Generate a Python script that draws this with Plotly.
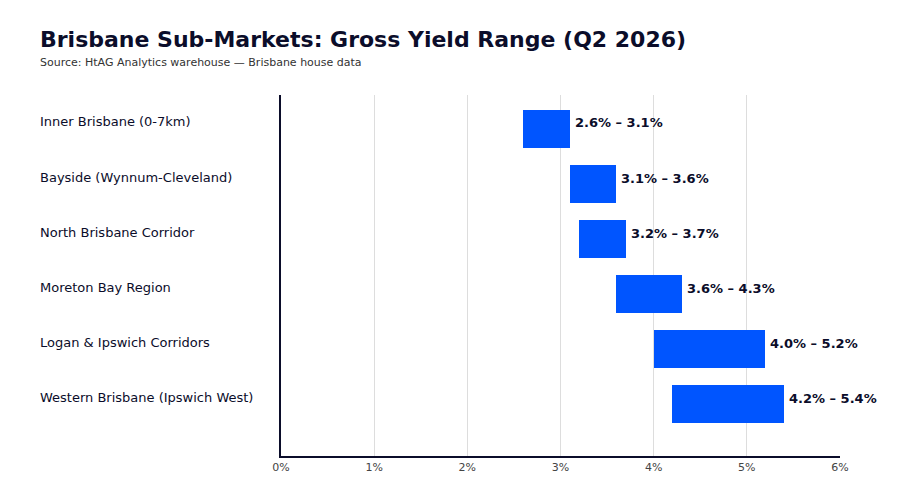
import plotly.graph_objects as go

regions = ["Inner Brisbane (0-7km)", "Bayside (Wynnum-Cleveland)", "North Brisbane Corridor",
           "Moreton Bay Region", "Logan & Ipswich Corridors", "Western Brisbane (Ipswich West)"]
low = [2.6, 3.1, 3.2, 3.6, 4.0, 4.2]
high = [3.1, 3.6, 3.7, 4.3, 5.2, 5.4]
tick_vals = [0, 1, 2, 3, 4, 5, 6]
tick_text = ["0%", "1%", "2%", "3%", "4%", "5%", "6%"]

navy = "#0b0d2a"
PL, PR, PT, PB = 281, 840, 95, 456
pw, ph = PR - PL, PB - PT

def px_x(p):
    return (p - PL) / pw

def px_y(p):
    return (PB - p) / ph

idx = list(range(len(regions)))
fig = go.Figure()
fig.add_trace(go.Bar(
    y=idx, x=[h - l for h, l in zip(high, low)], base=low, orientation="h",
    marker=dict(color="#0055ff", line=dict(width=0)), width=0.69,
    hoverinfo="skip",
))
for i, (l, h) in enumerate(zip(low, high)):
    fig.add_annotation(x=h, y=i, xref="x", yref="y", text=f"<b>{l:.1f}% – {h:.1f}%</b>",
                       showarrow=False, xanchor="left", xshift=3, yshift=6,
                       font=dict(size=13, color=navy, family="DejaVu Sans"))
    fig.add_annotation(x=px_x(40), y=i, xref="paper", yref="y", text=regions[i],
                       showarrow=False, xanchor="left", xshift=-2, yshift=7,
                       font=dict(size=13, color=navy, family="DejaVu Sans"))

fig.add_annotation(x=px_x(40), y=px_y(63), xref="paper", yref="paper",
                   text="Source: HtAG Analytics warehouse — Brisbane house data",
                   showarrow=False, xanchor="left", yanchor="middle", xshift=-2,
                   font=dict(size=11, color="#333333"))

fig.update_layout(
    width=900, height=500,
    margin=dict(l=PL, r=900 - PR, t=PT, b=500 - PB, pad=0),
    paper_bgcolor="white", plot_bgcolor="white",
    font=dict(family="DejaVu Sans", color=navy),
    title=dict(text="<b>Brisbane Sub-Markets: Gross Yield Range (Q2 2026)</b>",
               x=40/900, xanchor="left", y=1-39/500, yanchor="middle",
               font=dict(size=22, color=navy)),
    showlegend=False,
    bargap=0,
)
fig.update_xaxes(range=[0, 6], tickvals=tick_vals, ticktext=tick_text,
                 showgrid=True, gridcolor="#dddddd", gridwidth=1,
                 showline=True, linecolor=navy, linewidth=2,
                 tickfont=dict(size=11, color="#444444"), zeroline=False, ticks="")
fig.update_yaxes(range=[5.945, -0.618], showticklabels=False, showgrid=False,
                 showline=True, linecolor=navy, linewidth=2, zeroline=False, ticks="")
fig.write_html("out.html")
